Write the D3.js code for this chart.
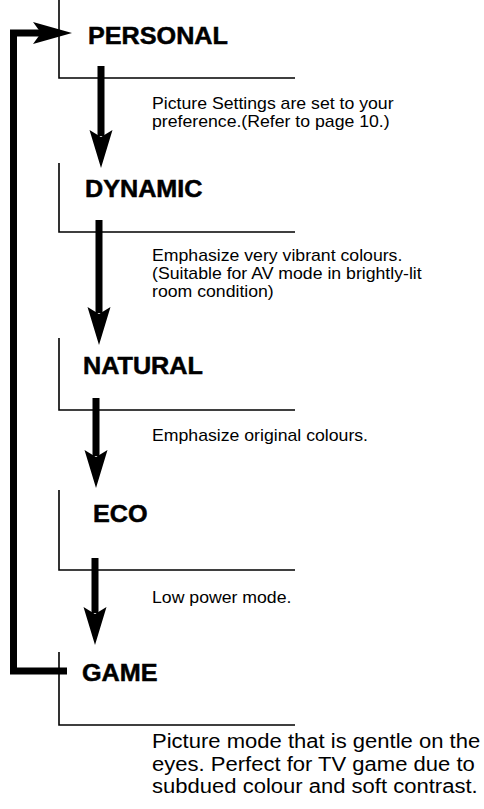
<!DOCTYPE html>
<html>
<head>
<meta charset="utf-8">
<script src="https://cdn.jsdelivr.net/npm/d3@7"></script>
<style>
  body { margin: 0; background: #fff; }
  svg { display: block; }
</style>
</head>
<body>
<script>
// picture modes, in the order the button cycles through them
const modes = ["PERSONAL", "DYNAMIC", "NATURAL", "ECO", "GAME"];
const descriptions = [
  ["Picture Settings are set to your", "preference.(Refer to page 10.)"],
  ["Emphasize very vibrant colours.", "(Suitable for AV mode in brightly-lit", "room condition)"],
  ["Emphasize original colours."],
  ["Low power mode."],
  ["Picture mode that is gentle on the", "eyes. Perfect for TV game due to", "subdued colour and soft contrast."]
];

// layout
const headerY = [44, 197, 374, 522, 681];
const headerX = [88, 85, 83, 93, 82];
const bracketTop = [0, 163, 338, 490, 652];
const bracketBottom = [78, 232, 410, 570, 725];
const descY = [109, 261, 441, 603, 748];
const arrowX = [101, 99, 96, 95];
const arrowTip = [168, 345, 488, 645];

const width = 484, height = 809;
const svg = d3.select("body").append("svg")
  .attr("width", width).attr("height", height);

const bracketX = 59, lineEnd = 295, descX = 152;
const font = "Liberation Sans, Arial, sans-serif";

const rows = modes.map((m, i) => ({
  mode: m, lines: descriptions[i],
  y: headerY[i], x: headerX[i],
  top: bracketTop[i], bottom: bracketBottom[i], dy: descY[i],
  big: i === modes.length - 1
}));

const g = svg.selectAll("g.row").data(rows).enter().append("g").attr("class", "row");

// thin bracket: vertical then rule to the right
g.append("path")
  .attr("d", d => `M${bracketX},${d.top}V${d.bottom}H${lineEnd}`)
  .attr("fill", "none").attr("stroke", "#000").attr("stroke-width", 1.6);

g.append("text")
  .attr("transform", d => `translate(${d.x},${d.y}) scale(1.05,1)`)
  .attr("font-family", font)
  .attr("font-weight", "bold").attr("font-size", 24)
  .attr("stroke", "#000").attr("stroke-width", 0.5)
  .text(d => d.mode);

// description lines, slightly wider than the stock font like the scan
g.each(function (d) {
  const step = d.big ? 22.5 : 18;
  d3.select(this).selectAll("text.desc").data(d.lines).enter().append("text")
    .attr("class", "desc")
    .attr("transform", (t, k) => `translate(${descX},${d.dy + k * step}) scale(${d.big ? 1.13 : 1.04},1)`)
    .attr("font-family", font)
    .attr("font-size", d.big ? 19.5 : 17)
    .text(t => t);
});

// down arrows between modes
const arrows = d3.range(modes.length - 1).map(i => ({
  x: arrowX[i], top: bracketBottom[i] - 12, tip: arrowTip[i]
}));

svg.selectAll("g.down").data(arrows).enter().append("g").attr("class", "down")
  .each(function (a) {
    const sel = d3.select(this), base = a.tip - 38;
    sel.append("rect")
      .attr("x", a.x - 3.5).attr("y", a.top)
      .attr("width", 7).attr("height", base + 6 - a.top).attr("fill", "#000");
    sel.append("path")
      .attr("d", `M${a.x},${a.tip}L${a.x - 11.5},${base}L${a.x},${base + 7}L${a.x + 11.5},${base}Z`)
      .attr("fill", "#000");
  });

// loop back from GAME to PERSONAL
const loopX = 13.5, loopTop = 33, loopBottom = 671;
svg.append("path")
  .attr("d", `M${bracketX + 8},${loopBottom}H${loopX}V${loopTop}H${42}`)
  .attr("fill", "none").attr("stroke", "#000").attr("stroke-width", 7)
  .attr("stroke-linejoin", "miter");
svg.append("path")
  .attr("d", `M72,${loopTop}L33,${loopTop - 11}L41,${loopTop}L33,${loopTop + 11}Z`)
  .attr("fill", "#000");
</script>
</body>
</html>
